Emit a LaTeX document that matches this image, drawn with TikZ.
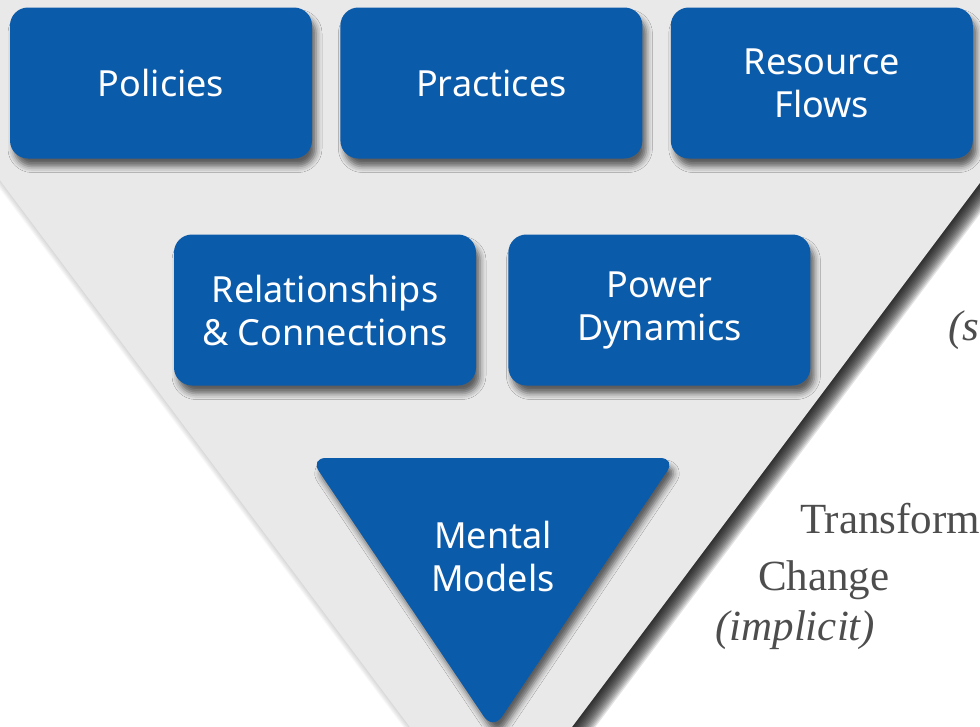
\documentclass[tikz,border=0pt]{standalone}
\usepackage{fontspec}
\setmainfont{Liberation Serif}
\setsansfont{Noto Sans}
\usetikzlibrary{positioning,shadows.blur}
\definecolor{levercolor}{RGB}{11,91,171}
\definecolor{pyramidcolor}{RGB}{233,233,233}
\definecolor{labelcolor}{RGB}{77,77,77}

\begin{document}
\begin{tikzpicture}[
    x=1pt, y=-1pt,
    lever/.style={rectangle, rounded corners=18pt, fill=levercolor, text=white, font=\sffamily\fontsize{36}{43}\selectfont, align=center, minimum width=302pt, minimum height=151pt, inner sep=0pt, blur shadow={shadow xshift=4pt, shadow yshift=-8pt, shadow blur radius=6pt, shadow opacity=60}},
    level/.style={anchor=base west, inner sep=0pt, text=labelcolor, font=\fontsize{43}{55}\selectfont}
]
\useasboundingbox (0,0) rectangle (980,726);
\clip (0,0) rectangle (980,726);

% Inverted pyramid with its shadow
\foreach \i in {1,...,14}
    \fill[black, opacity=0.11, shift={(1.3*\i,0.5*\i)}] (-150,-20) -- (1132,-20) -- (491,835) -- cycle;
\foreach \i in {1,...,5}
    \fill[black, opacity=0.03, shift={(-0.9*\i,0.6*\i)}] (-150,-20) -- (1132,-20) -- (491,835) -- cycle;
\fill[pyramidcolor] (-150,-20) -- (1132,-20) -- (491,835) -- cycle;

% Top row
\node[lever] (policies) at (161,83) {Policies};
\node[lever, right=28pt of policies] (practices) {Practices};
\node[lever, right=28pt of practices] (flows) {Resource\\Flows};

% Middle row
\node[lever] (relations) at (325,310) {Relationships\\\& Connections};
\node[lever, right=32pt of relations] (power) {Power\\Dynamics};

% Bottom
\fill[levercolor, rounded corners=16pt, blur shadow={shadow xshift=4pt, shadow yshift=-8pt, shadow blur radius=6pt, shadow opacity=60}] (310,458) -- (676,458) -- (493,730) -- cycle;
\node[text=white, font=\sffamily\fontsize{36}{43}\selectfont, align=center] (mental) at (493,556) {Mental\\Models};

% Labels on the right
\node[level] (semi) at (948,340) {\itshape (s};
\node[level] (transform) at (800,533) {Transform};
\node[level] (change) at (758,590) {Change};
\node[level] (implicit) at (715,640) {\itshape (implicit)};

\end{tikzpicture}
\end{document}
